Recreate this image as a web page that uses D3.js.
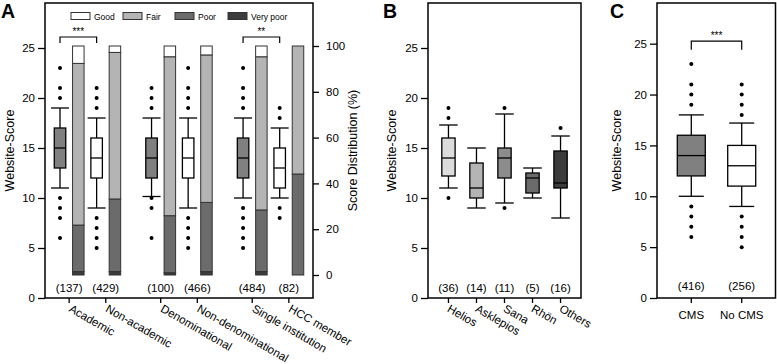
<!DOCTYPE html>
<html>
<head>
<meta charset="utf-8">
<script src="https://cdn.jsdelivr.net/npm/d3@7"></script>
<style>
  body { margin: 0; background: #fff; }
  svg { font-family: "Liberation Sans", Arial, sans-serif; }
  .axis text { font-size: 11.5px; fill: #000; }
  .axis line { stroke: #000; stroke-width: 1.3px; }
  .axis path { display: none; }
</style>
</head>
<body>
<div id="chart-area"></div>
<script>

/*****************************************/
/*   DATA                                */
/*****************************************/

// Panel A - hospital groups
var groupsA = ["Academic", "Non-academic", "Denominational", "Non-denominational", "Single institution", "HCC member"];
var nA = [137, 429, 100, 466, 484, 82];
var q1A = [13, 12, 12, 12, 12, 11];
var medA = [15, 14, 14, 14, 14, 13];
var q3A = [17, 16, 16, 16, 16, 15];
var loA = [11, 9, 10.15, 9, 10, 10];
var hiA = [19, 18, 18, 18, 18, 17];
var outA = [
    [23, 21, 20, 10, 9, 8, 6],
    [21, 20, 19, 8, 7, 6, 5],
    [21, 20, 19, 10, 9, 6],
    [23, 21, 20, 19, 8, 7, 6, 5],
    [23, 21, 20, 19, 9, 8, 7, 6, 5],
    [19, 18, 9, 8]
];
// score distribution (%) per group
var veryPoorA = [1.5, 1.5, 1.0, 1.5, 1.5, 0];
var poorA = [20.3, 31.7, 24.9, 30.2, 26.9, 44.1];
var fairA = [70.6, 64.0, 69.4, 64.4, 66.9, 55.9];
var goodA = [7.6, 2.8, 4.7, 3.9, 4.7, 0];
var levels = ["Good", "Fair", "Poor", "Very poor"];
var levelColors = ["#ffffff", "#b4b4b4", "#6b6b6b", "#3c3c3c"];

// Panel B - hospital chains
var chainsB = ["Helios", "Asklepios", "Sana", "Rhön", "Others"];
var nB = [36, 14, 11, 5, 16];
var q1B = [12.2, 10, 12, 10.5, 11];
var medB = [14, 11, 14, 12, 11.5];
var q3B = [16, 13.5, 15, 12.5, 14.7];
var loB = [11, 9, 9.5, 10, 8];
var hiB = [17.3, 15, 18.4, 13, 16.2];
var outB = [[19, 18, 10], [], [19, 9], [], [17]];
var colorsB = ["#dcdcdc", "#b4b4b4", "#8c8c8c", "#6b6b6b", "#3c3c3c"];

// Panel C - CMS
var cmsC = ["CMS", "No CMS"];
var nC = [416, 256];
var q1C = [12, 11];
var medC = [14, 13];
var q3C = [16, 15];
var loC = [10, 9];
var hiC = [18, 17.2];
var outC = [[23, 21, 20, 19, 9, 8, 7, 6], [21, 20, 19, 18, 8, 7, 6, 5]];
var colorsC = ["#808080", "#ffffff"];

var scoreTicks = [0, 5, 10, 15, 20, 25];
var pctTicks = [0, 20, 40, 60, 80, 100];


/*****************************************/
/*   SVG                                 */
/*****************************************/

var svg = d3.select("#chart-area").append("svg")
    .attr("width", 777)
    .attr("height", 364);

var plotTop = 3, plotBottom = 298;


// draw one box with whiskers and outliers
function drawBox(g, cx, w, capW, y, st, fill) {
    var x0 = cx - w / 2;
    g.append("line")
        .attr("x1", cx).attr("x2", cx)
        .attr("y1", y(st.hi)).attr("y2", y(st.lo))
        .attr("stroke", "#000").attr("stroke-width", 1.3);
    [st.hi, st.lo].forEach(function(v) {
        g.append("line")
            .attr("x1", cx - capW / 2).attr("x2", cx + capW / 2)
            .attr("y1", y(v)).attr("y2", y(v))
            .attr("stroke", "#000").attr("stroke-width", 1.3);
    });
    g.append("rect")
        .attr("x", x0).attr("y", y(st.q3))
        .attr("width", w).attr("height", y(st.q1) - y(st.q3))
        .attr("fill", fill).attr("stroke", "#000").attr("stroke-width", 1.3);
    g.append("line")
        .attr("x1", x0).attr("x2", x0 + w)
        .attr("y1", y(st.med)).attr("y2", y(st.med))
        .attr("stroke", "#000").attr("stroke-width", 1.3);
    g.selectAll(null)
        .data(st.out)
        .enter().append("circle")
        .attr("cx", cx)
        .attr("cy", function(d) { return y(d); })
        .attr("r", 2)
        .attr("fill", "#000");
}

function stats(i, q1, med, q3, lo, hi, out) {
    return {q1: q1[i], med: med[i], q3: q3[i], lo: lo[i], hi: hi[i], out: out[i]};
}

function frame(x0, x1) {
    svg.append("rect")
        .attr("x", x0).attr("y", plotTop)
        .attr("width", x1 - x0).attr("height", plotBottom - plotTop)
        .attr("fill", "none").attr("stroke", "#000").attr("stroke-width", 1.5);
}

function yTitle(x, text) {
    svg.append("text")
        .attr("transform", "translate(" + x + "," + ((plotTop + plotBottom) / 2) + ") rotate(-90)")
        .attr("text-anchor", "middle")
        .attr("dy", "0.35em")
        .style("font-size", "12.5px")
        .text(text);
}

function panelLetter(x, text) {
    svg.append("text")
        .attr("x", x).attr("y", 18)
        .style("font-size", "19.5px")
        .style("font-weight", "bold")
        .text(text);
}

function bracket(x1, x2, yLine, yLeg, label) {
    svg.append("path")
        .attr("d", "M" + x1 + "," + yLeg + "V" + yLine + "H" + x2 + "V" + yLeg)
        .attr("fill", "none").attr("stroke", "#000").attr("stroke-width", 1.2);
    svg.append("text")
        .attr("x", (x1 + x2) / 2).attr("y", yLine - 2)
        .attr("text-anchor", "middle")
        .style("font-size", "10px")
        .text(label);
}


/*****************************************/
/*   PANEL A                             */
/*****************************************/

var xA = d3.scaleLinear().domain([-0.82, 13.82]).range([45, 313]);
var yA = d3.scaleLinear().domain([0, 29.5]).range([plotBottom, plotTop]);
var pA = d3.scaleLinear().domain([0, 100]).range([275, 46]);

// slot index of box and bar for group i (gap between pairs)
function slot(i) { return 2 * i + Math.floor(i / 2); }

var gA = svg.append("g");
var wA = 11.5;

groupsA.forEach(function(name, i) {
    drawBox(gA, xA(slot(i)), wA, 18, yA, stats(i, q1A, medA, q3A, loA, hiA, outA), i % 2 === 0 ? "#808080" : "#ffffff");

    // stacked distribution bar
    var parts = [veryPoorA[i], poorA[i], fairA[i], goodA[i]];
    var cols = [levelColors[3], levelColors[2], levelColors[1], levelColors[0]];
    var cum = 0;
    var bx = xA(slot(i) + 1) - wA / 2;
    parts.forEach(function(v, k) {
        if (v > 0) {
            gA.append("rect")
                .attr("x", bx).attr("y", pA(cum + v))
                .attr("width", wA).attr("height", pA(cum) - pA(cum + v))
                .attr("fill", cols[k]).attr("stroke", "#333").attr("stroke-width", 1);
        }
        cum += v;
    });

    var mid = (xA(slot(i)) + xA(slot(i) + 1)) / 2;
    svg.append("text")
        .attr("x", mid).attr("y", 292)
        .attr("text-anchor", "middle")
        .style("font-size", "11.5px")
        .text("(" + nA[i] + ")");

    // x tick + rotated label
    svg.append("line")
        .attr("x1", mid).attr("x2", mid).attr("y1", plotBottom).attr("y2", plotBottom + 5)
        .attr("stroke", "#000").attr("stroke-width", 1.3);
    svg.append("text")
        .attr("transform", "translate(" + (mid - 1) + "," + 311 + ") rotate(30)")
        .style("font-size", "11.5px")
        .text(name);
});

frame(45, 313);

svg.append("g").attr("class", "axis")
    .attr("transform", "translate(45,0)")
    .call(d3.axisLeft(yA).tickValues(scoreTicks).tickSize(7).tickPadding(3));

svg.append("g").attr("class", "axis")
    .attr("transform", "translate(313,0)")
    .call(d3.axisRight(pA).tickValues(pctTicks).tickSize(6).tickPadding(7));

yTitle(10, "Website-Score");
yTitle(353, "Score Distribution (%)");
panelLetter(1, "A");

// legend
var legX = [71, 123, 175, 228];
levels.forEach(function(l, k) {
    svg.append("rect")
        .attr("x", legX[k]).attr("y", 12.5)
        .attr("width", 19).attr("height", 7)
        .attr("fill", levelColors[k]).attr("stroke", "#333").attr("stroke-width", 1);
    svg.append("text")
        .attr("x", legX[k] + 23).attr("y", 19.5)
        .style("font-size", "8.5px")
        .text(l);
});

bracket(xA(slot(0)), xA(slot(1)), yA(26.1), yA(25.5), "***");
bracket(xA(slot(4)), xA(slot(5)), yA(26.1), yA(25.5), "**");


/*****************************************/
/*   PANEL B                             */
/*****************************************/

var xB = d3.scalePoint().domain(chainsB).range([428, 581]).padding(0.73);
var gB = svg.append("g");

chainsB.forEach(function(name, i) {
    drawBox(gB, xB(name), 13.3, 18.5, yA, stats(i, q1B, medB, q3B, loB, hiB, outB), colorsB[i]);
    svg.append("text")
        .attr("x", xB(name)).attr("y", 292)
        .attr("text-anchor", "middle")
        .style("font-size", "11.5px")
        .text("(" + nB[i] + ")");
    svg.append("line")
        .attr("x1", xB(name)).attr("x2", xB(name)).attr("y1", plotBottom).attr("y2", plotBottom + 5)
        .attr("stroke", "#000").attr("stroke-width", 1.3);
    svg.append("text")
        .attr("transform", "translate(" + (xB(name) - 2) + "," + 311 + ") rotate(30)")
        .style("font-size", "11.5px")
        .text(name);
});

frame(428, 581);
svg.append("g").attr("class", "axis")
    .attr("transform", "translate(428,0)")
    .call(d3.axisLeft(yA).tickValues(scoreTicks).tickSize(7).tickPadding(3));

yTitle(392, "Website-Score");
panelLetter(383, "B");


/*****************************************/
/*   PANEL C                             */
/*****************************************/

var xC = d3.scalePoint().domain(cmsC).range([657, 776]).padding(0.68);
var yC = d3.scaleLinear().domain([0, 29]).range([plotBottom, plotTop]);
var gC = svg.append("g");

cmsC.forEach(function(name, i) {
    drawBox(gC, xC(name), 28, 25, yC, stats(i, q1C, medC, q3C, loC, hiC, outC), colorsC[i]);
    svg.append("text")
        .attr("x", xC(name)).attr("y", 290)
        .attr("text-anchor", "middle")
        .style("font-size", "11.5px")
        .text("(" + nC[i] + ")");
    svg.append("line")
        .attr("x1", xC(name)).attr("x2", xC(name)).attr("y1", plotBottom).attr("y2", plotBottom + 5)
        .attr("stroke", "#000").attr("stroke-width", 1.3);
    svg.append("text")
        .attr("x", xC(name)).attr("y", 318.5)
        .attr("text-anchor", "middle")
        .style("font-size", "11.5px")
        .text(name);
});

frame(657, 775.5);
svg.append("g").attr("class", "axis")
    .attr("transform", "translate(657,0)")
    .call(d3.axisLeft(yC).tickValues(scoreTicks).tickSize(7).tickPadding(3));

bracket(xC("CMS"), xC("No CMS"), yC(25.25), yC(24.4), "***");

yTitle(617, "Website-Score");
panelLetter(610, "C");

</script>
</body>
</html>
